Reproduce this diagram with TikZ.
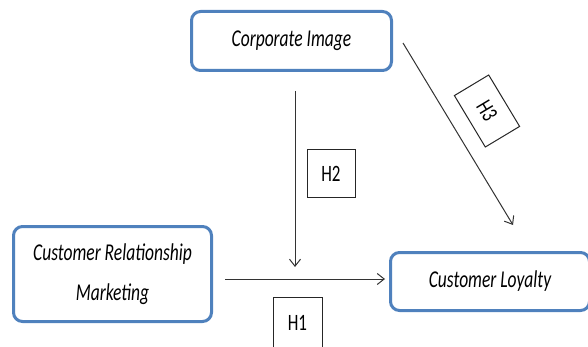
\documentclass[tikz,border=0pt]{standalone}
\usepackage{fontspec}
\setmainfont{Carlito}
\usetikzlibrary{arrows.meta}
\definecolor{boxblue}{RGB}{79,129,189}
\newcommand{\tall}[1]{\scalebox{1}[1.38]{#1}}
\begin{document}
\begin{tikzpicture}[x=1pt,y=-1pt,>={Straight Barb[length=7pt,width=11pt]},
  var/.style={draw=boxblue, line width=3pt, rounded corners=9pt, fill=white, align=center, inner sep=0pt,
    font=\fontsize{17.5}{40}\selectfont\itshape},
  hyp/.style={draw=black!85, line width=1pt, inner sep=0pt, font=\fontsize{17}{20}\selectfont},
  link/.style={->, draw=black!80, line width=1pt}]
\useasboundingbox (0,0) rectangle (588,347);

\node(Img)[var, minimum width=200pt, minimum height=59pt] at (291.5,41) {\tall{Corporate Image}};
\node(CRM)[var, minimum width=198pt, minimum height=95pt] at (112.5,274) {\tall{Customer Relationship}\\\tall{Marketing}};
\node(Loy)[var, minimum width=199pt, minimum height=58pt] at (490,281.5) {\tall{Customer Loyalty}};

\node(H1)[hyp, minimum width=49pt, minimum height=52pt] at (297.5,323) {\tall{H1}};
\node(H2)[hyp, minimum width=48pt, minimum height=48pt] at (331,174) {\tall{H2}};
\node(H3)[hyp, minimum width=60pt, minimum height=40pt, rotate=-59] at (487,111) {\tall{H3}};

\coordinate(H1a) at (225,279);
\coordinate(H2a) at (295,91);
\coordinate(H2b) at (295,267);
\coordinate(H3a) at (403,43);
\coordinate(H3b) at (513,225);

\draw[link, shorten >=4pt] (H1a) -- (H1a -| Loy.west);
\draw[link] (H2a) -- (H2b);
\draw[link] (H3a) -- (H3b);
\end{tikzpicture}
\end{document}
